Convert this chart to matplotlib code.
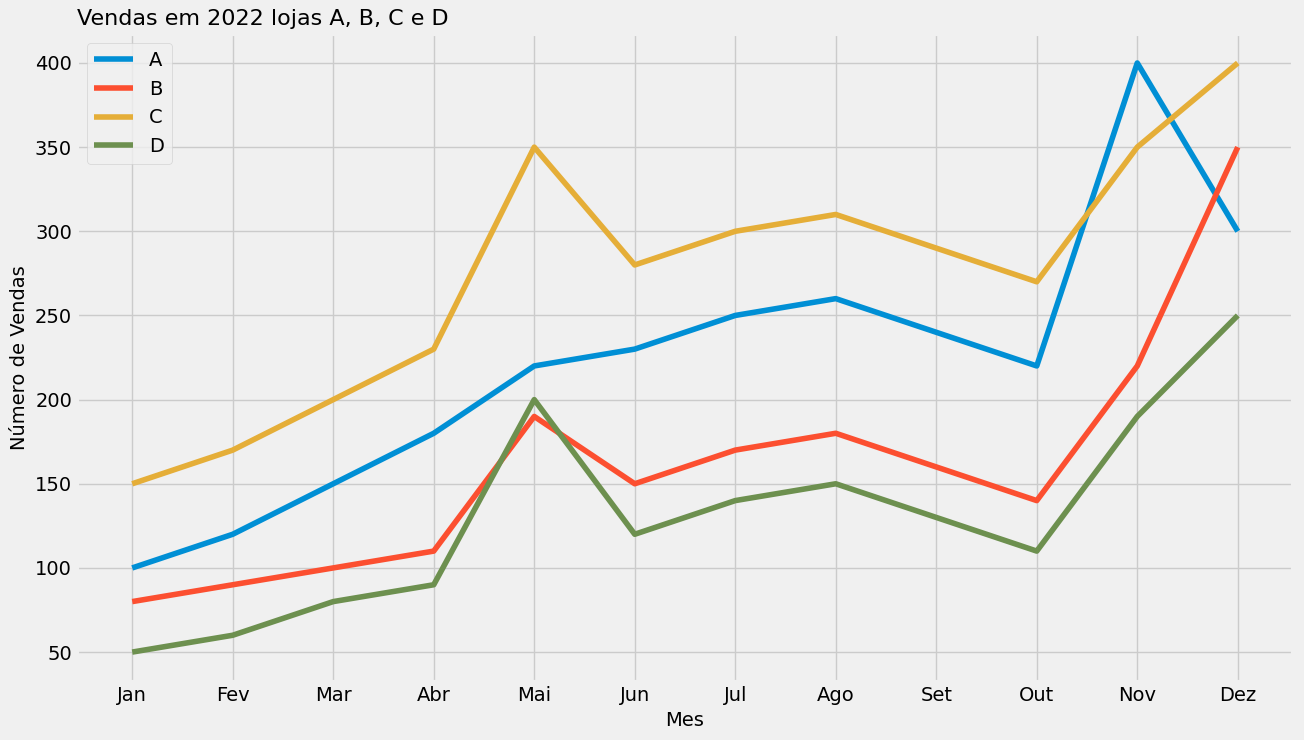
import matplotlib
matplotlib.use("Agg")
import matplotlib.pyplot as plt

plt.style.use('fivethirtyeight')

# Meses
meses = ['Jan', 'Fev', 'Mar', 'Abr', 'Mai', 'Jun', 'Jul', 'Ago', 'Set', 'Out', 'Nov', 'Dez']

# Vendas por loja
loja_a = [100, 120, 150, 180, 220, 230, 250, 260, 240, 220, 400, 300]
loja_b = [80, 90, 100, 110, 190, 150, 170, 180, 160, 140, 220, 350]
loja_c = [150, 170, 200, 230, 350, 280, 300, 310, 290, 270, 350, 400]
loja_d = [50, 60, 80, 90, 200, 120, 140, 150, 130, 110, 190, 250]

fig, ax = plt.subplots(figsize=(13.04, 7.4), dpi=100)

ax.plot(meses, loja_a, label='A')
ax.plot(meses, loja_b, label='B')
ax.plot(meses, loja_c, label='C')
ax.plot(meses, loja_d, label='D')

ax.set_title('Vendas em 2022 lojas A, B, C e D', loc='left', fontsize=16)
ax.set_xlabel('Mes', fontsize=14)
ax.set_ylabel('Número de Vendas', fontsize=14)
ax.legend(loc='upper left')

plt.subplots_adjust(left=0.059, right=0.9916, top=0.9547, bottom=0.079)
plt.savefig('out.png')
